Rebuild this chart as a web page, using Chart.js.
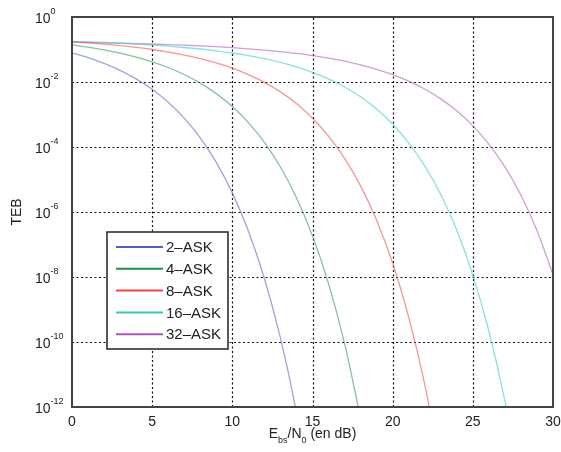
<!DOCTYPE html>
<html>
<head>
<meta charset="utf-8">
<script src="https://cdn.jsdelivr.net/npm/chart.js@4.4.0/dist/chart.umd.min.js"></script>
<style>
html,body{margin:0;padding:0;background:#fff;}
#wrap{width:561px;height:452px;position:relative;}
</style>
</head>
<body>
<div id="wrap"><canvas id="c" width="561" height="452"></canvas></div>
<script>
// ---- data ----
const ebN0dB = [0,1,2,3,4,5,6,7,8,9,10,11,12,13,14,15,16,17,18,19,20,21,22,23,24,25,26,27,28,29,30];
const seriesLabels = ['2\u2013ASK','4\u2013ASK','8\u2013ASK','16\u2013ASK','32\u2013ASK'];
// TEB values given as base-10 exponents, one per dB step starting at 0 dB
const teb2ASKlog = [-1.105,-1.249,-1.426,-1.640,-1.903,-2.225,-2.622,-3.112,-3.719,-4.474,-5.412,-6.583,-8.045,-9.876,-12.167,-15.04];
const teb4ASKlog = [-0.856,-0.927,-1.010,-1.110,-1.232,-1.378,-1.554,-1.770,-2.034,-2.358,-2.756,-3.249,-3.859,-4.616,-5.559,-6.735,-8.204,-10.042,-12.345];
const teb8ASKlog = [-0.762,-0.796,-0.835,-0.881,-0.936,-1.000,-1.078,-1.170,-1.280,-1.414,-1.575,-1.772,-2.010,-2.304,-2.664,-3.114,-3.665,-4.348,-5.197,-6.257,-7.579,-9.233,-11.303,-13.898];
const teb16ASKlog = [-0.750,-0.766,-0.785,-0.807,-0.833,-0.862,-0.897,-0.938,-0.985,-1.042,-1.108,-1.188,-1.283,-1.397,-1.535,-1.702,-1.905,-2.153,-2.456,-2.829,-3.300,-3.871,-4.580,-5.464,-6.565,-7.941,-9.662,-11.817,-14.517];
const teb32ASKlog = [-0.776,-0.785,-0.794,-0.805,-0.817,-0.831,-0.848,-0.867,-0.888,-0.914,-0.943,-0.978,-1.017,-1.064,-1.120,-1.186,-1.265,-1.359,-1.471,-1.608,-1.773,-1.973,-2.217,-2.519,-2.888,-3.350,-3.913,-4.612,-5.484,-6.570,-7.926];
const xTickValues = [0,5,10,15,20,25,30];
const yTickExponents = [0,-2,-4,-6,-8,-10,-12];
const legendColors = ['#4a64c4','#229048','#f04444','#38c8c8','#a858b4'];
const curveColors = ['rgba(90,105,200,0.6)','rgba(60,150,90,0.6)','rgba(240,80,80,0.6)','rgba(70,200,200,0.6)','rgba(175,95,185,0.6)'];

const allLogs = [teb2ASKlog, teb4ASKlog, teb8ASKlog, teb16ASKlog, teb32ASKlog];
const datasets = allLogs.map((arr, k) => ({
  label: seriesLabels[k],
  data: arr.map((v, i) => ({x: ebN0dB[i], y: Math.pow(10, v)})),
  borderColor: curveColors[k],
  backgroundColor: curveColors[k],
  borderWidth: 1.3,
  pointRadius: 0,
  fill: false,
  cubicInterpolationMode: 'monotone'
}));

const FONT = '"Liberation Sans", Arial, Helvetica, sans-serif';
const TXT = '#222';

const overlay = {
  id: 'overlay',
  beforeDatasetsDraw(chart) {
    const {ctx, chartArea: a, scales: {x, y}} = chart;
    ctx.save();
    ctx.strokeStyle = '#111';
    ctx.lineWidth = 1.2;
    ctx.setLineDash([2, 2.5]);
    xTickValues.forEach(v => {
      const px = Math.round(x.getPixelForValue(v)) + 0.5;
      if (px <= a.left + 2 || px >= a.right - 2) return;
      ctx.beginPath(); ctx.moveTo(px, a.bottom); ctx.lineTo(px, a.top); ctx.stroke();
    });
    yTickExponents.forEach(e => {
      const py = Math.round(y.getPixelForValue(Math.pow(10, e))) + 0.5;
      if (py <= a.top + 2 || py >= a.bottom - 2) return;
      ctx.beginPath(); ctx.moveTo(a.left, py); ctx.lineTo(a.right, py); ctx.stroke();
    });
    ctx.restore();
  },
  afterDraw(chart) {
    const {ctx, chartArea: a, scales: {x, y}} = chart;
    ctx.save();
    // axes box
    ctx.setLineDash([]);
    ctx.strokeStyle = '#444';
    ctx.lineWidth = 2;
    ctx.strokeRect(a.left, a.top, a.right - a.left, a.bottom - a.top);

    // y tick labels 10^e
    ctx.fillStyle = TXT;
    ctx.textBaseline = 'alphabetic';
    ctx.textAlign = 'left';
    yTickExponents.forEach(e => {
      const py = y.getPixelForValue(Math.pow(10, e));
      ctx.font = '14px ' + FONT;
      const bx = 35;
      ctx.fillText('10', bx, py + 6);
      const bw = ctx.measureText('10').width;
      ctx.font = '9px ' + FONT;
      ctx.fillText(String(e), bx + bw, py - 3);
    });

    // y title
    ctx.save();
    ctx.translate(21, (a.top + a.bottom) / 2);
    ctx.rotate(-Math.PI / 2);
    ctx.font = '14px ' + FONT;
    ctx.textAlign = 'center';
    ctx.fillText('TEB', 0, 0);
    ctx.restore();

    // x title E_bs/N_0 (en dB)
    const parts = [
      {t: 'E', s: 14, dy: 0},
      {t: 'bs', s: 9, dy: 5},
      {t: '/N', s: 14, dy: 0},
      {t: '0', s: 9, dy: 5},
      {t: ' (en dB)', s: 14, dy: 0}
    ];
    let total = 0;
    parts.forEach(p => { ctx.font = p.s + 'px ' + FONT; p.w = ctx.measureText(p.t).width; total += p.w; });
    let cx = (a.left + a.right) / 2 - total / 2;
    const base = 438;
    ctx.textAlign = 'left';
    parts.forEach(p => { ctx.font = p.s + 'px ' + FONT; ctx.fillText(p.t, cx, base + p.dy); cx += p.w; });

    // legend box
    const lx = a.left + 35, ly = a.top + 215, lw = 121, lh = 117;
    ctx.fillStyle = '#fff';
    ctx.fillRect(lx, ly, lw, lh);
    ctx.strokeStyle = '#222';
    ctx.lineWidth = 1.5;
    ctx.strokeRect(lx, ly, lw, lh);
    chart.data.datasets.forEach((ds, i) => {
      const yy = ly + 15 + i * 21.8;
      ctx.strokeStyle = legendColors[i];
      ctx.lineWidth = 2;
      ctx.beginPath(); ctx.moveTo(lx + 9, yy); ctx.lineTo(lx + 56, yy); ctx.stroke();
      ctx.fillStyle = TXT;
      ctx.font = '15px ' + FONT;
      ctx.textBaseline = 'middle';
      ctx.fillText(ds.label, lx + 59, yy + 1);
    });
    ctx.restore();
  }
};

new Chart(document.getElementById('c'), {
  type: 'line',
  data: {datasets},
  options: {
    responsive: false,
    animation: false,
    devicePixelRatio: 1,
    layout: {padding: {left: 0, right: 0, top: 17, bottom: 0}},
    plugins: {legend: {display: false}, tooltip: {enabled: false}},
    scales: {
      x: {
        type: 'linear', min: 0, max: 30,
        grid: {display: false, drawTicks: false},
        border: {display: false},
        afterFit(s) { s.height = 45; s.paddingRight = 8; },
        afterBuildTicks(s) { s.ticks = xTickValues.map(v => ({value: v})); },
        ticks: {
          color: TXT, padding: 7, maxRotation: 0, autoSkip: false,
          font: {family: FONT, size: 14},
          callback: v => String(v)
        }
      },
      y: {
        type: 'logarithmic', min: 1e-12, max: 1,
        grid: {display: false, drawTicks: false},
        border: {display: false},
        afterFit(s) { s.width = 72; },
        ticks: {display: false}
      }
    }
  },
  plugins: [overlay]
});
</script>
</body>
</html>
